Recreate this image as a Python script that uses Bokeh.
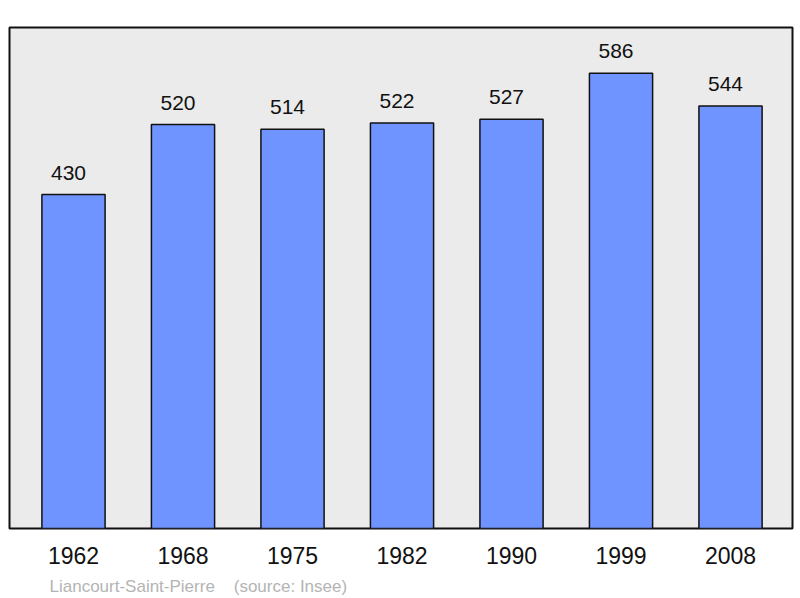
from bokeh.plotting import figure
from bokeh.models import ColumnDataSource, Range1d, FixedTicker, Title
from bokeh.core.properties import value
from bokeh.embed import file_html
from bokeh.resources import INLINE

years = ["1962", "1968", "1975", "1982", "1990", "1999", "2008"]
population = [430, 520, 514, 522, 527, 586, 544]
source_text = "Liancourt-Saint-Pierre\u00a0\u00a0\u00a0\u00a0(source: Insee)"

xs = list(range(len(years)))
src = ColumnDataSource(dict(x=xs, top=population, label=[str(v) for v in population]))

p = figure(width=800, height=598, output_backend="svg", toolbar_location=None,
           x_range=Range1d(-0.5845, 6.566), y_range=Range1d(0, 645),
           y_axis_location=None, min_border_left=9, min_border_right=8,
           min_border_top=27, min_border_bottom=70)
p.background_fill_color = "#ebebeb"
p.border_fill_color = "white"
p.outline_line_color = "#111111"
p.outline_line_width = 2
p.grid.visible = False

p.vbar(x="x", top="top", width=0.577, bottom=0, source=src,
       fill_color="#7094ff", line_color="#111111", line_width=1.5)

p.text(x="x", y="top", text="label", source=src, text_align="center",
       text_baseline="alphabetic", x_offset=-5, y_offset=-22,
       text_font=value("Liberation Sans"),
       text_font_size="21px", text_color="#111111")

ax = p.xaxis[0]
ax.ticker = FixedTicker(ticks=xs)
ax.major_label_overrides = {i: y for i, y in zip(xs, years)}
ax.axis_line_color = None
ax.major_tick_line_color = None
ax.minor_tick_line_color = None
ax.major_tick_out = 0
ax.major_tick_in = 0
ax.major_label_standoff = 18
ax.major_label_text_font = "Liberation Sans"
ax.major_label_text_font_size = "23px"
ax.major_label_text_color = "#111111"
ax.axis_label = "\u00a0"
ax.axis_label_text_font_size = "2px"
ax.axis_label_standoff = 3

t = Title(text=source_text, align="left", offset=40, standoff=0,
          text_font="Liberation Sans", text_font_size="17px",
          text_font_style="normal", text_color="#b4b4b4")
p.add_layout(t, "below")

open("out.html", "w").write(file_html(p, INLINE))
